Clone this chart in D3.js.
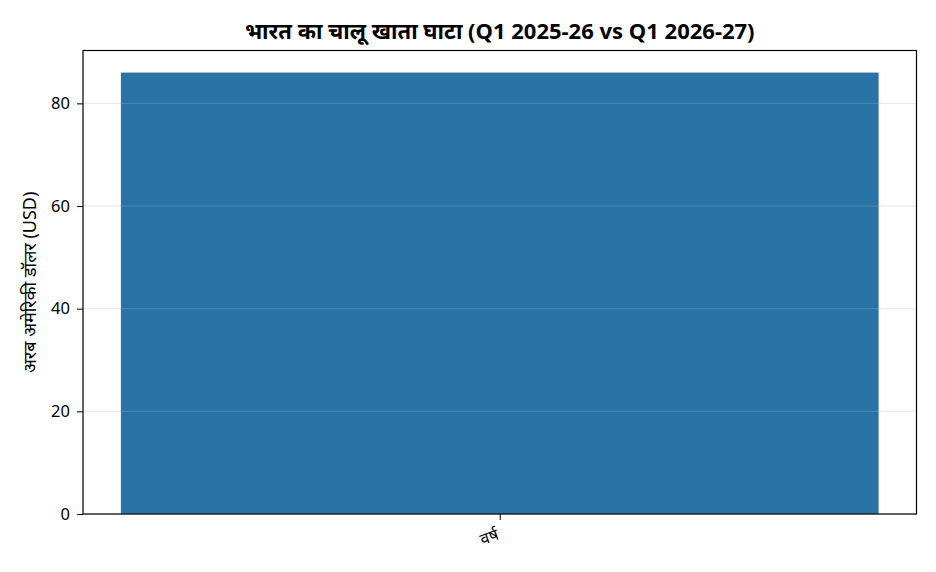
<!DOCTYPE html>
<html><head><meta charset="utf-8">
<script src="https://cdn.jsdelivr.net/npm/d3@7"></script>
<style>body{margin:0;background:#fff;font-family:"Noto Sans","Noto Sans Devanagari",sans-serif;}</style>
</head><body><svg id="c" width="936" height="572"></svg>
<script>
const categories = ["वर्ष"];
const values = [86.0];
const yTicks = [0, 20, 40, 60, 80];
const title = "भारत का चालू खाता घाटा (Q1 2025-26 vs Q1 2026-27)";
const yLabel = "अरब अमेरिकी डॉलर (USD)";

const svg = d3.select("#c");
const m = {l:83, r:936-916.5, t:50.5, b:572-514};
const W = 936, H = 572;
const x = d3.scaleLinear().domain([-0.44, 0.44]).range([m.l, W - m.r]);
const y = d3.scaleLinear().domain([0, d3.max(values) * 1.05]).range([H - m.b, m.t]);
const font = '"Noto Sans","Noto Sans Devanagari",sans-serif';

svg.append("g").selectAll("rect").data(values).join("rect")
  .attr("x", (d,i) => x(i - 0.4)).attr("width", (d,i) => x(i + 0.4) - x(i - 0.4))
  .attr("y", d => y(d)).attr("height", d => y(0) - y(d))
  .attr("fill", "#2874a6");

// grid
svg.append("g").selectAll("line").data(yTicks).join("line")
  .attr("x1", m.l).attr("x2", W - m.r).attr("y1", d => y(d)).attr("y2", d => y(d))
  .attr("stroke", "#b0b0b0").attr("stroke-opacity", 0.35).attr("stroke-width", 0.9);

const ya = svg.append("g").attr("transform", `translate(${m.l},0)`)
  .call(d3.axisLeft(y).tickValues(yTicks).tickSize(6).tickPadding(7));
ya.select(".domain").remove();
ya.selectAll("text").attr("font-size", 16.5).attr("font-family", font).attr("fill", "#000");
ya.selectAll("line").attr("stroke", "#000");

const xa = svg.append("g").attr("transform", `translate(0,${H - m.b})`)
  .call(d3.axisBottom(x).tickValues(categories.map((c,i)=>i)).tickFormat(i => categories[i]).tickSize(6).tickPadding(4));
xa.select(".domain").remove();
xa.selectAll("line").attr("stroke", "#000");
xa.selectAll("text").attr("font-size", 16).attr("font-family", font).attr("fill", "#000")
  .attr("text-anchor", "end").attr("dy", "0.9em")
  .attr("transform", "translate(-9,2) rotate(-20)");

svg.append("rect").attr("x", m.l).attr("y", m.t).attr("width", W - m.r - m.l).attr("height", H - m.b - m.t)
  .attr("fill", "none").attr("stroke", "#000").attr("stroke-width", 1.2);

svg.append("text").attr("x", (m.l + W - m.r)/2).attr("y", 39).attr("text-anchor", "middle")
  .attr("font-size", 22).attr("font-weight", "bold").attr("font-family", font).text(title);

svg.append("text").attr("transform", `translate(30,${(m.t + H - m.b)/2}) rotate(-90)`)
  .attr("text-anchor", "middle").attr("dy", "0.35em").attr("font-size", 18).attr("font-family", font).text(yLabel);
</script></body></html>
